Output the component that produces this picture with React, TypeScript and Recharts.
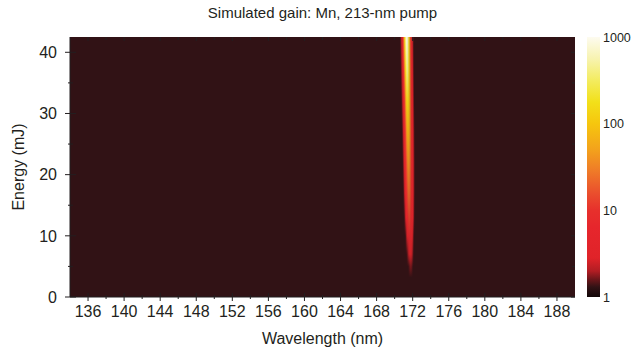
import React from 'react';
import { ComposedChart, BarChart, Bar, Scatter, XAxis, YAxis, ReferenceArea } from 'recharts';

const FONT = '"Liberation Sans", Arial, Helvetica, sans-serif';
const INK = '#231f20';

// axis ticks
const xMajorTicks = [136, 140, 144, 148, 152, 156, 160, 164, 168, 172, 176, 180, 184, 188];
const xMinorTicks = [138, 142, 146, 150, 154, 158, 162, 166, 170, 174, 178, 182, 186];
const yMajorTicks = [0, 10, 20, 30, 40];
const yMinorTicks = [5, 15, 25, 35];
const colorbarTicks = [1, 10, 100, 1000];

const X_DOMAIN = [134, 190];
const Y_MAX = 42.5;
const BG_GAIN = 1.3; // gain level of the flat background

// heatmap: wavelength columns (nm), energy rows (mJ), gain
const wavelengths = [170.7, 170.8, 170.9, 171.0, 171.1, 171.2, 171.3, 171.4, 171.5, 171.6, 171.7, 171.8, 171.9, 172.0, 172.1, 172.2, 172.3, 172.4];
const energies = [42.5, 37, 32, 27, 22, 17, 13, 10, 7, 5];
const gainAt42 = [1.65, 2.8, 6.4, 21, 81, 300, 740, 940, 550, 185, 46, 12.5, 4.4, 2.2, 1.45, 1.3, 1.3, 1.3];
const gainAt37 = [1.35, 1.9, 3.5, 8.5, 27, 92, 258, 436, 380, 179, 57, 16.6, 5.7, 2.6, 1.6, 1.3, 1.3, 1.3];
const gainAt32 = [1.3, 1.46, 2.2, 4.1, 9.9, 28, 75, 149, 178, 119, 52, 18, 6.8, 3.1, 1.8, 1.3, 1.3, 1.3];
const gainAt27 = [1.3, 1.3, 1.6, 2.5, 4.8, 11, 27, 57, 83, 75, 43, 19, 7.7, 3.6, 2.0, 1.42, 1.3, 1.3];
const gainAt22 = [1.3, 1.3, 1.35, 1.8, 3.0, 5.8, 12.4, 25, 41, 44, 32, 16.8, 7.8, 3.8, 2.2, 1.5, 1.3, 1.3];
const gainAt17 = [1.3, 1.3, 1.3, 1.4, 2.0, 3.3, 6.2, 11.9, 20, 25, 21.5, 13.4, 7.0, 3.7, 2.2, 1.5, 1.3, 1.3];
const gainAt13 = [1.3, 1.3, 1.3, 1.3, 1.4, 2.0, 3.3, 5.8, 9.7, 13.4, 13.4, 9.7, 5.8, 3.3, 2.0, 1.4, 1.3, 1.3];
const gainAt10 = [1.3, 1.3, 1.3, 1.3, 1.3, 1.3, 1.7, 2.6, 4.0, 5.8, 6.5, 5.5, 3.8, 2.4, 1.6, 1.3, 1.3, 1.3];
const gainAt7 = [1.3, 1.3, 1.3, 1.3, 1.3, 1.3, 1.3, 1.4, 1.8, 2.4, 2.9, 2.9, 2.4, 1.8, 1.4, 1.3, 1.3, 1.3];
const gainAt5 = [1.3, 1.3, 1.3, 1.3, 1.3, 1.3, 1.3, 1.3, 1.3, 1.4, 1.6, 1.7, 1.6, 1.4, 1.3, 1.3, 1.3, 1.3];
const gainRows = [gainAt42, gainAt37, gainAt32, gainAt27, gainAt22, gainAt17, gainAt13, gainAt10, gainAt7, gainAt5];
const fadeEnergy = 3.2;

// hot colour map, keyed by log10(gain)
const hotStops: [number, string][] = [
  [0, '#120607'],
  [0.114, '#311215'],
  [0.2, '#6a161a'],
  [0.3, '#b21d23'],
  [0.45, '#e02329'],
  [0.8, '#e6262c'],
  [1.0, '#e7302c'],
  [1.2, '#ea4f2d'],
  [1.45, '#ef7a28'],
  [1.7, '#f3a21c'],
  [2.0, '#f6c60e'],
  [2.25, '#f2e01a'],
  [2.5, '#f3ec60'],
  [2.75, '#f7f3b0'],
  [3.0, '#fdfbf0'],
];

const colorbarData = [{ name: 'gain', range: [1, 1000] }];

function hexToRgb(h: string) {
  const n = parseInt(h.slice(1), 16);
  return [(n >> 16) & 255, (n >> 8) & 255, n & 255];
}

function colorFor(g: number) {
  const l = Math.min(3, Math.max(0, Math.log10(Math.max(g, BG_GAIN))));
  for (let i = 0; i < hotStops.length - 1; i++) {
    const [l0, c0] = hotStops[i];
    const [l1, c1] = hotStops[i + 1];
    if (l <= l1) {
      const t = (l - l0) / (l1 - l0);
      const a = hexToRgb(c0);
      const b = hexToRgb(c1);
      const m = a.map((v, k) => Math.round(v + (b[k] - v) * t));
      return `rgb(${m[0]},${m[1]},${m[2]})`;
    }
  }
  return hotStops[hotStops.length - 1][1];
}

const bgColor = colorFor(BG_GAIN);

const BottomTick = (props: any) => {
  const { x, y, payload } = props;
  const major = xMajorTicks.includes(payload.value);
  const len = major ? 4 : 2;
  return (
    <g>
      <line x1={x} x2={x} y1={y - len} y2={y + len} stroke={INK} />
      {major && (
        <text x={x} y={y + 20} textAnchor="middle" fontSize={16} fontFamily={FONT} fill={INK}>
          {payload.value}
        </text>
      )}
    </g>
  );
};

const TopTick = (props: any) => {
  const { x, y, payload } = props;
  const major = xMajorTicks.includes(payload.value);
  return <line x1={x} x2={x} y1={y} y2={y + (major ? 4 : 3)} stroke={INK} />;
};

const LeftTick = (props: any) => {
  const { x, y, payload } = props;
  const major = yMajorTicks.includes(payload.value);
  return (
    <g>
      <line x1={major ? x - 5 : x - 2} x2={major ? x + 6 : x + 3} y1={y} y2={y} stroke={INK} />
      {major && (
        <text x={x - 13} y={y} dy="0.36em" textAnchor="end" fontSize={16} fontFamily={FONT} fill={INK}>
          {payload.value}
        </text>
      )}
    </g>
  );
};

const RightTick = (props: any) => {
  const { x, y, payload } = props;
  const major = yMajorTicks.includes(payload.value);
  return <line x1={x} x2={x - (major ? 4 : 3)} y1={y} y2={y} stroke={INK} />;
};

const ColorbarTick = (props: any) => {
  const { x, y, payload } = props;
  return (
    <text x={x + 3} y={y} dy="0.36em" textAnchor="start" fontSize={12.5} fontFamily={FONT} fill={INK}>
      {payload.value}
    </text>
  );
};

export default function App() {
  const xTicks = [...xMajorTicks, ...xMinorTicks].sort((a, b) => a - b);
  const yTicks = [...yMajorTicks, ...yMinorTicks].sort((a, b) => a - b);
  // anchors the wavelength / energy axes to the heatmap columns
  const columnData = wavelengths.map((w) => ({ w, e: 0 }));

  return (
    <div style={{ position: 'absolute', left: 0, top: 0, width: 635, height: 349, background: '#fff' }}>
      <ComposedChart width={635} height={349} margin={{ top: 36, right: 59, bottom: 0, left: 8 }}>
        <defs>
          {wavelengths.map((w, i) => (
            <linearGradient key={w} id={`col${i}`} x1="0" y1="0" x2="0" y2="1">
              {energies.map((e, r) => (
                <stop key={e} offset={(Y_MAX - e) / Y_MAX} stopColor={colorFor(gainRows[r][i])} />
              ))}
              <stop offset={(Y_MAX - fadeEnergy) / Y_MAX} stopColor={bgColor} />
              <stop offset={1} stopColor={bgColor} />
            </linearGradient>
          ))}
        </defs>
        <XAxis
          xAxisId="bottom"
          dataKey="w"
          type="number"
          domain={X_DOMAIN}
          allowDataOverflow
          ticks={xTicks}
          interval={0}
          tickSize={0}
          tickMargin={0}
          tick={<BottomTick />}
          height={52}
          axisLine={{ stroke: INK }}
        />
        <XAxis
          xAxisId="top"
          orientation="top"
          dataKey="w"
          type="number"
          domain={X_DOMAIN}
          allowDataOverflow
          ticks={xTicks}
          interval={0}
          tickSize={0}
          tickMargin={0}
          tick={<TopTick />}
          height={1}
          axisLine={false}
        />
        <YAxis
          yAxisId="left"
          dataKey="e"
          type="number"
          domain={[0, Y_MAX]}
          allowDataOverflow
          ticks={yTicks}
          interval={0}
          tickSize={0}
          tickMargin={0}
          tick={<LeftTick />}
          width={62}
          axisLine={{ stroke: INK }}
        />
        <YAxis
          yAxisId="right"
          orientation="right"
          dataKey="e"
          type="number"
          domain={[0, Y_MAX]}
          allowDataOverflow
          ticks={yTicks}
          interval={0}
          tickSize={0}
          tickMargin={0}
          tick={<RightTick />}
          width={1}
          axisLine={false}
        />
        <ReferenceArea
          xAxisId="bottom"
          yAxisId="left"
          x1={X_DOMAIN[0]}
          x2={X_DOMAIN[1]}
          y1={0}
          y2={Y_MAX}
          fill={bgColor}
          fillOpacity={1}
          stroke="none"
        />
        {wavelengths.map((w, i) => (
          <ReferenceArea
            key={w}
            xAxisId="bottom"
            yAxisId="left"
            x1={w - 0.07}
            x2={w + 0.07}
            y1={0}
            y2={Y_MAX}
            fill={`url(#col${i})`}
            fillOpacity={1}
            stroke="none"
          />
        ))}
        <Scatter xAxisId="bottom" yAxisId="left" data={columnData} dataKey="e" shape={() => <g />} isAnimationActive={false} />
        <Scatter xAxisId="top" yAxisId="right" data={columnData} dataKey="e" shape={() => <g />} isAnimationActive={false} />
      </ComposedChart>

      <div style={{ position: 'absolute', left: 580, top: 0 }}>
        <BarChart width={55} height={349} data={colorbarData} margin={{ top: 37, right: 0, bottom: 52, left: 7 }} barCategoryGap={0}>
          <defs>
            <linearGradient id="cbar" x1="0" y1="0" x2="0" y2="1">
              {[...hotStops].reverse().map(([l, c]) => (
                <stop key={l} offset={1 - l / 3} stopColor={c} />
              ))}
            </linearGradient>
          </defs>
          <XAxis dataKey="name" hide />
          <YAxis
            orientation="right"
            type="number"
            scale="log"
            domain={[1, 1000]}
            allowDataOverflow
            ticks={colorbarTicks}
            interval={0}
            tickSize={0}
            tickMargin={0}
            axisLine={false}
            tick={<ColorbarTick />}
            width={35}
          />
          <Bar dataKey="range" fill="url(#cbar)" isAnimationActive={false} />
        </BarChart>
      </div>

      <svg width={635} height={349} style={{ position: 'absolute', left: 0, top: 0, pointerEvents: 'none' }}>
        <text x={322.5} y={18} textAnchor="middle" fontSize={15} fontFamily={FONT} fill={INK}>
          Simulated gain: Mn, 213-nm pump
        </text>
        <text x={322.5} y={344} textAnchor="middle" fontSize={16} fontFamily={FONT} fill={INK}>
          Wavelength (nm)
        </text>
        <text
          x={18}
          y={167}
          transform="rotate(-90 18 167)"
          textAnchor="middle"
          dominantBaseline="central"
          fontSize={16}
          fontFamily={FONT}
          fill={INK}
        >
          Energy (mJ)
        </text>
      </svg>
    </div>
  );
}
